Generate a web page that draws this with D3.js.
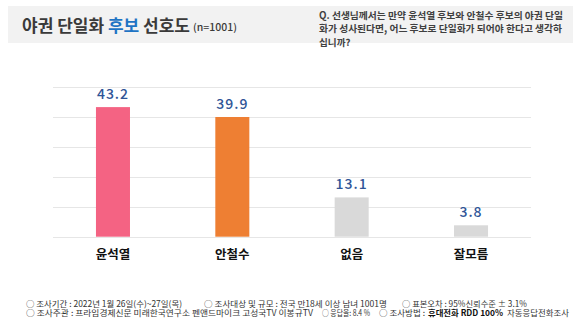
<!DOCTYPE html>
<html>
<head>
<meta charset="utf-8">
<script src="https://cdn.jsdelivr.net/npm/d3@7"></script>
<style>
  html, body { margin: 0; padding: 0; background: #fff; }
  svg { display: block; font-family: "Noto Sans CJK KR", "Noto Sans", sans-serif; }
</style>
</head>
<body>
<svg id="chart" width="580" height="323"></svg>
<script>
// Survey results: preferred candidate for an opposition merger
const categories = ["윤석열", "안철수", "없음", "잘모름"];
const values = [43.2, 39.9, 13.1, 3.8];
const barColors = ["#f46383", "#ee7f33", "#d9d9d9", "#d9d9d9"];
const gridTicks = [0, 10, 20, 30, 40, 50];

const titleMain = ["야권 단일화 ", "후보", " 선호도"];
const titleNote = "(n=1001)";
const questionLines = [
  "Q. 선생님께서는 만약 윤석열 후보와 안철수 후보의 야권 단일",
  "화가 성사된다면, 어느 후보로 단일화가 되어야 한다고 생각하",
  "십니까?"
];
const footerRow1 = [
  "○ 조사기간 : 2022년 1월 26일(수)~27일(목)",
  "○ 조사대상 및 규모 : 전국 만18세 이상 남녀 1001명",
  "○ 표본오차 : 95%신뢰수준 ± 3.1%"
];
const footerRow2 = [
  "○ 조사주관 : 프라임경제신문 미래한국연구소 펜앤드마이크 고성국TV 이봉규TV",
  "○ 응답율: 8.4 %",
  "○ 조사방법 :",
  "휴대전화 RDD 100%",
  "자동응답전화조사"
];
const footerRow2Bold = [false, false, false, true, false];

const svg = d3.select("#chart");

// Header band
svg.append("rect").attr("x", 8).attr("y", 6).attr("width", 565).attr("height", 37).attr("fill", "#f2f2f2");

const title = svg.append("text").attr("x", 22).attr("y", 31.5)
  .attr("font-size", 17).attr("font-weight", 700).attr("fill", "#3a3a3a");
title.selectAll("tspan").data(titleMain).join("tspan")
  .text(d => d)
  .attr("fill", (d, i) => i === 1 ? "#1f74c4" : "#3a3a3a");
svg.append("text").attr("x", 193).attr("y", 30.5)
  .attr("font-size", 10).attr("font-weight", 500).attr("fill", "#3a3a3a")
  .attr("textLength", 44).attr("lengthAdjust", "spacingAndGlyphs")
  .text(titleNote);

const qWidths = [244, 243, null];
svg.append("g").selectAll("text").data(questionLines).join("text")
  .attr("x", 319).attr("y", (d, i) => 18.5 + i * 13.5)
  .attr("font-size", 9.6).attr("font-weight", 700).attr("fill", "#404040")
  .each(function (d, i) {
    if (qWidths[i]) d3.select(this).attr("textLength", qWidths[i]).attr("lengthAdjust", "spacingAndGlyphs");
  })
  .text(d => d);

// Plot area
const x = d3.scaleBand().domain(categories).range([53, 531]).paddingInner(0.715).paddingOuter(0.36);
const y = d3.scaleLinear().domain([0, 50]).range([236.7, 86.7]);

svg.append("g").selectAll("line").data(gridTicks).join("line")
  .attr("x1", 53).attr("x2", 531)
  .attr("y1", d => Math.round(y(d)) + 0.5).attr("y2", d => Math.round(y(d)) + 0.5)
  .attr("stroke", "#e6e6e6").attr("stroke-width", 1);

svg.append("g").selectAll("rect").data(values).join("rect")
  .attr("x", (d, i) => x(categories[i]))
  .attr("width", x.bandwidth())
  .attr("y", d => y(d))
  .attr("height", d => y(0) - y(d))
  .attr("fill", (d, i) => barColors[i]);

svg.append("g").selectAll("text").data(values).join("text")
  .attr("x", (d, i) => x(categories[i]) + x.bandwidth() / 2)
  .attr("y", d => y(d) - 8)
  .attr("text-anchor", "middle")
  .attr("font-size", 14).attr("font-weight", 500).attr("fill", "#2f5597")
  .attr("letter-spacing", 1)
  .text(d => d.toFixed(1));

const xAxis = svg.append("g").attr("transform", `translate(0,${y(0)})`)
  .call(d3.axisBottom(x).tickSize(0).tickPadding(13));
xAxis.select(".domain").remove();
xAxis.selectAll("text")
  .attr("font-family", "\"Noto Sans CJK KR\", sans-serif")
  .attr("font-size", 12.5).attr("font-weight", 700).attr("fill", "#111");

// Footer notes: each piece gets a left and right edge
function drawRow(texts, spans, bolds, yPos) {
  svg.append("g").selectAll("text").data(texts).join("text")
    .attr("x", (d, i) => spans[i][0]).attr("y", yPos)
    .attr("font-size", 8.3)
    .attr("font-weight", (d, i) => bolds[i] ? 700 : 400)
    .attr("fill", (d, i) => bolds[i] ? "#111" : "#333")
    .attr("textLength", (d, i) => spans[i][1] - spans[i][0])
    .attr("lengthAdjust", "spacingAndGlyphs")
    .text(d => d);
}
drawRow(footerRow1, [[26, 182], [204, 387], [402, 527]], [false, false, false], 307);
drawRow(footerRow2, [[26, 313], [322, 370], [379, 425], [428, 503], [507, 569]], footerRow2Bold, 316);
</script>
</body>
</html>
